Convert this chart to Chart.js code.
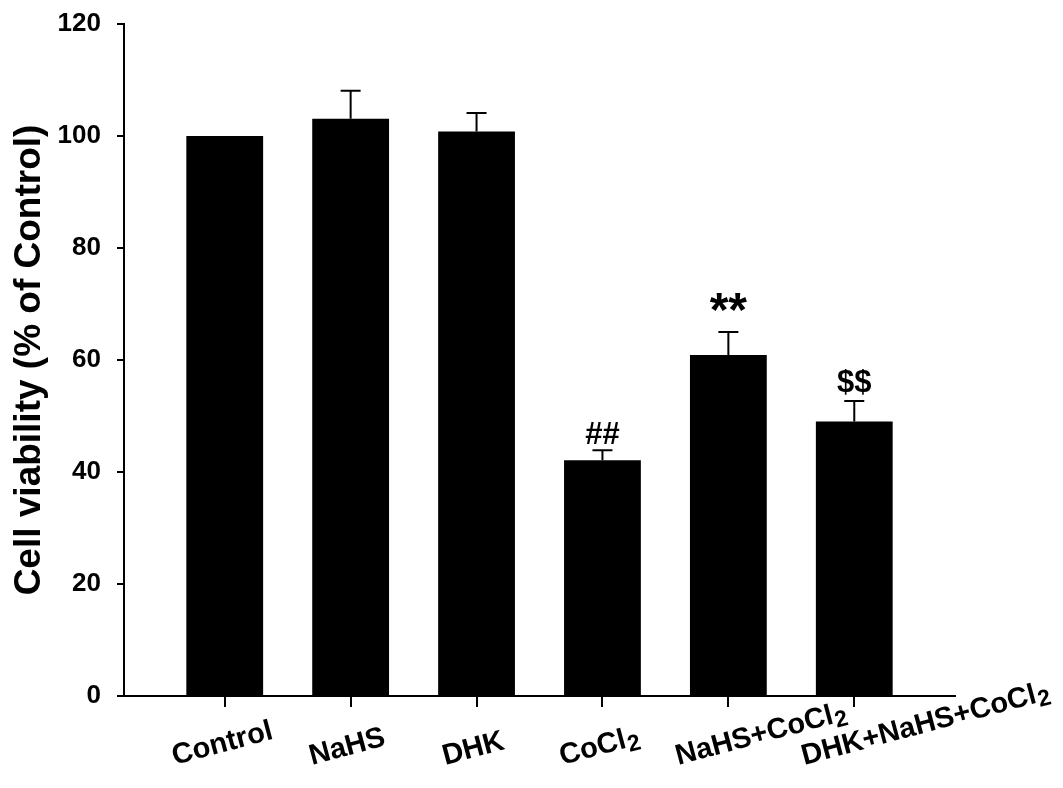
<!DOCTYPE html>
<html>
<head>
<meta charset="utf-8">
<script src="https://cdn.jsdelivr.net/npm/chart.js@4.4.1/dist/chart.umd.min.js"></script>
<style>
  html, body { margin: 0; padding: 0; background: #fff; }
  #chart { display: block; }
</style>
</head>
<body>
<canvas id="chart" width="1063" height="788"></canvas>
<script>
const groups = ["Control", "NaHS", "DHK", "CoCl2", "NaHS+CoCl2", "DHK+NaHS+CoCl2"];
const viability = [100, 103.1, 100.8, 42.1, 60.9, 49.0];
const sem = [0, 5.0, 3.3, 1.8, 4.1, 3.7];
const marks = ["", "", "", "##", "**", "$$"];
const yTicks = [0, 20, 40, 60, 80, 100, 120];

const FONT = "'Liberation Sans', Arial, sans-serif";

const canvas = document.getElementById("chart");
const ctx = canvas.getContext("2d");

// error bars, significance marks and slanted group labels
const extras = {
  id: "extras",
  afterDatasetsDraw(chart) {
    const { ctx, scales: { x, y } } = chart;
    ctx.save();
    ctx.strokeStyle = "#000";
    ctx.fillStyle = "#000";
    ctx.lineWidth = 2;
    viability.forEach((v, i) => {
      if (!sem[i]) return;
      const px = x.getPixelForValue(i + 1);
      const top = y.getPixelForValue(v + sem[i]);
      ctx.beginPath();
      ctx.moveTo(px, y.getPixelForValue(v));
      ctx.lineTo(px, top);
      ctx.moveTo(px - 10, top);
      ctx.lineTo(px + 10, top);
      ctx.stroke();
    });

    ctx.textAlign = "center";
    ctx.textBaseline = "alphabetic";
    marks.forEach((m, i) => {
      if (!m) return;
      const size = m === "**" ? 48 : 31;
      ctx.font = `bold ${size}px ${FONT}`;
      const desc = Math.max(0, ctx.measureText(m).actualBoundingBoxDescent);
      const top = y.getPixelForValue(viability[i] + sem[i]);
      ctx.fillText(m, x.getPixelForValue(i + 1), top - 6 - desc);
    });

    ctx.textAlign = "left";
    const size = 29;
    groups.forEach((g, i) => {
      const hasSub = g.endsWith("Cl2");
      const main = hasSub ? g.slice(0, -1) : g;
      ctx.font = `bold ${size}px ${FONT}`;
      const mw = ctx.measureText(main).width;
      ctx.font = `bold ${Math.round(size * 0.8)}px ${FONT}`;
      const sw = hasSub ? ctx.measureText("2").width : 0;
      const w = mw + sw;
      const px = x.getPixelForValue(i + 1);
      ctx.save();
      ctx.translate(px - Math.min(w / 2, 50), y.bottom + 69);
      ctx.rotate(-15 * Math.PI / 180);
      ctx.font = `bold ${size}px ${FONT}`;
      ctx.fillText(main, 0, 0);
      if (hasSub) {
        ctx.font = `bold ${Math.round(size * 0.8)}px ${FONT}`;
        ctx.fillText("2", mw + 1, 5);
      }
      ctx.restore();
    });
    ctx.restore();
  }
};

new Chart(ctx, {
  type: "bar",
  data: {
    datasets: [
      {
        data: viability.map((v, i) => ({ x: i + 1, y: v })),
        backgroundColor: "#000",
        borderWidth: 0,
        barPercentage: 0.61,
        categoryPercentage: 1
      }
    ]
  },
  options: {
    responsive: false,
    animation: false,
    layout: { padding: { left: 0, right: 108, top: 24, bottom: 0 } },
    plugins: {
      legend: { display: false },
      tooltip: { enabled: false }
    },
    scales: {
      x: {
        type: "linear",
        min: 0.2,
        max: 6.8,
        offset: false,
        afterBuildTicks: s => { s.ticks = groups.map((_, i) => ({ value: i + 1 })); },
        afterFit: s => { s.height = 92; s.paddingLeft = 0; s.paddingRight = 0; },
        border: { color: "#000", width: 2 },
        grid: { offset: false, drawOnChartArea: false, color: "#000", lineWidth: 2, tickLength: 11 },
        ticks: { display: false }
      },
      y: {
        min: 0,
        max: 120,
        afterBuildTicks: s => { s.ticks = yTicks.map(v => ({ value: v })); },
        afterFit: s => { s.width = 124; s.paddingTop = 0; s.paddingBottom = 0; },
        border: { color: "#000", width: 2 },
        grid: { drawOnChartArea: false, color: "#000", lineWidth: 2, tickLength: 7 },
        ticks: {
          color: "#000",
          padding: 16,
          font: { family: FONT, size: 26, weight: "bold" }
        },
        title: {
          display: true,
          text: "Cell viability (% of Control)",
          color: "#000",
          padding: { top: 8, bottom: 0 },
          font: { family: FONT, size: 37, weight: "bold" }
        }
      }
    }
  },
  plugins: [extras]
});
</script>
</body>
</html>
